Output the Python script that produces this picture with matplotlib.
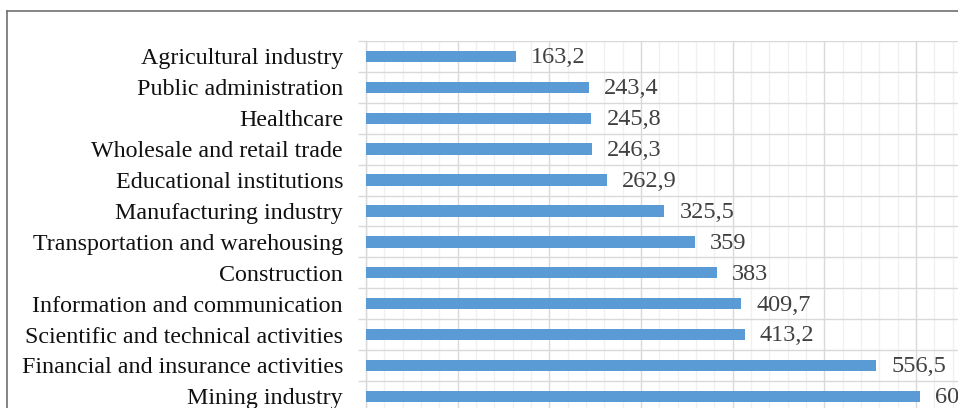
import numpy as np
import matplotlib
matplotlib.use('Agg')
import matplotlib.pyplot as plt
from matplotlib.lines import Line2D

# Data (top to bottom)
sectors = [
    "Agricultural industry",
    "Public administration",
    "Healthcare",
    "Wholesale and retail trade",
    "Educational institutions",
    "Manufacturing industry",
    "Transportation and warehousing",
    "Construction",
    "Information and communication",
    "Scientific and technical activities",
    "Financial and insurance activities",
    "Mining industry",
]
values = [163.2, 243.4, 245.8, 246.3, 262.9, 325.5, 359, 383, 409.7, 413.2, 556.5, 604.0]

W, H = 958, 408
fig = plt.figure(figsize=(W / 100, H / 100), dpi=100, facecolor='white')

# plot area (extends past the right/bottom edge like the cropped original)
left, top, row_h, px_per_unit = 366, 41, 30.9, 0.9165
xmax = 700
ax = fig.add_axes([left / W, 1 - (top + 12 * row_h) / H,
                   xmax * px_per_unit / W, 12 * row_h / H])

y = np.arange(len(sectors))
ax.barh(y, values, height=0.37, color='#5B9BD5', zorder=3)
ax.set_ylim(len(sectors) - 0.5, -0.5)
ax.set_xlim(0, xmax)

# value labels with decimal comma
for yi, v in zip(y, values):
    txt = f"{v:g}".replace('.', ',')
    ax.annotate(txt, xy=(v, yi), xytext=(11, -1), textcoords='offset points',
                va='center', ha='left', fontsize=17.5, color='#404040',
                family='Liberation Serif', annotation_clip=False)

# category labels
ax.set_yticks(y)
ax.set_yticklabels(sectors, fontsize=17.3, family='Liberation Serif', color='#111111')
ax.tick_params(axis='y', which='major', length=0, pad=16.5)
ax.set_yticks(np.arange(-0.5, len(sectors)), minor=True)
ax.tick_params(axis='y', which='minor', length=5.5, color='#d9d9d9', width=1)

# grid
ax.set_xticks(np.arange(0, xmax + 1, 100))
ax.set_xticks(np.arange(0, xmax + 1, 20), minor=True)
ax.tick_params(axis='x', which='both', length=0, labelbottom=False)
ax.grid(axis='x', which='minor', color='#f0f0f0', linewidth=1, zorder=0)
ax.grid(axis='x', which='major', color='#d9d9d9', linewidth=1, zorder=1)
ax.grid(axis='y', which='minor', color='#d9d9d9', linewidth=1, zorder=1)
ax.set_axisbelow(True)

for s in ['top', 'right', 'bottom']:
    ax.spines[s].set_visible(False)
ax.spines['left'].set_color('#d9d9d9')
ax.spines['left'].set_linewidth(1)

# chart border (top and left visible)
fig.add_artist(Line2D([7 / W, 1.0], [1 - 11 / H, 1 - 11 / H], color='#707070', lw=1.2))
fig.add_artist(Line2D([7 / W, 7 / W], [1 - 11 / H, 0.0], color='#707070', lw=1.2))

plt.savefig('out.png', dpi=100)
plt.close()
